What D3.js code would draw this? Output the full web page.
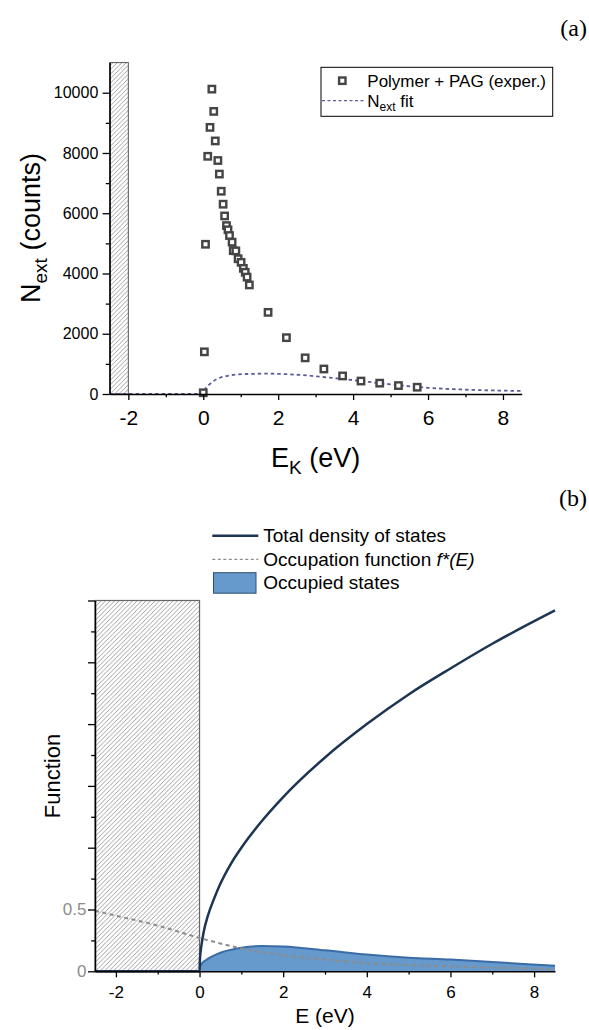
<!DOCTYPE html>
<html>
<head>
<meta charset="utf-8">
<script src="https://cdn.jsdelivr.net/npm/d3@7"></script>
<style>
  body { margin: 0; background: #fff; }
  svg text { font-family: "Liberation Sans", Arial, sans-serif; fill: #000; }
</style>
</head>
<body>
<svg id="chart" width="589" height="1030"></svg>
<script>

// ---- panel (a) data ----
var expEnergy = [0.00, 0.03, 0.06, 0.12, 0.18, 0.23, 0.28, 0.32, 0.39, 0.43, 0.48, 0.53, 0.57, 0.62, 0.66, 0.70,
                 0.77, 0.80, 0.87, 0.93, 1.01, 1.07, 1.12, 1.17, 1.23, 1.73, 2.22, 2.72, 3.22, 3.72, 4.21, 4.71, 5.21, 5.71];
var expCounts = [40, 1400, 4970, 7890, 8850, 10120, 9380, 8400, 7750, 7300, 6730, 6300, 5910, 5590, 5450, 5260,
                 5040, 4760, 4750, 4490, 4370, 4170, 4040, 3880, 3620, 2710, 1870, 1200, 830, 600, 430, 360, 280, 225];
var fitEnergy = [-2.5, 0, 0.05, 0.2, 0.62, 1.16, 1.69, 2.49, 3.29, 4.0, 5.0, 6.0, 7.0, 8.5];
var fitCounts = [0, 0, 150, 354, 597, 664, 674, 640, 554, 460, 320, 205, 145, 100];
var xTicksA = [-2, 0, 2, 4, 6, 8];
var yTicksA = [0, 2000, 4000, 6000, 8000, 10000];
var gapA = [-2.5, -2];

// ---- panel (b) data ----
var dosEnergy = [-2.5, 0, 0.01, 0.05, 0.1, 0.2, 0.35, 0.5, 0.75, 1, 1.5, 2, 3, 4, 5, 6, 7, 8.5];
var dosValue  = [0, 0, 0.1, 0.22, 0.32, 0.45, 0.59, 0.71, 0.87, 1.0, 1.22, 1.41, 1.73, 2.0, 2.24, 2.45, 2.65, 2.92];
var occEnergy = [-2.5, -2, -1, 0, 0.5, 1, 2, 3, 4, 5, 6, 7, 8.5];
var occValue  = [0.49, 0.45, 0.37, 0.27, 0.225, 0.185, 0.13, 0.095, 0.066, 0.05, 0.04, 0.03, 0.018];
var filledEnergy = [0, 0.02, 0.05, 0.15, 0.3, 0.5, 1, 1.5, 2, 3, 4, 5, 6, 7, 8.5];
var filledValue  = [0, 0.04, 0.06, 0.09, 0.12, 0.15, 0.19, 0.205, 0.2, 0.17, 0.135, 0.11, 0.095, 0.075, 0.045];
var xTicksB = [-2, 0, 2, 4, 6, 8];
var yLabelsB = [0, 0.5];
var gapB = [-2.5, 0];


var svg = d3.select("#chart");

// hatch pattern for the forbidden region
var defs = svg.append("defs");
defs.append("pattern")
    .attr("id", "hatch")
    .attr("patternUnits", "userSpaceOnUse")
    .attr("width", 4.5).attr("height", 4.5)
  .append("path")
    .attr("d", "M-1,1 l2,-2 M0,4.5 l4.5,-4.5 M3.5,5.5 l2,-2")
    .attr("stroke", "#8a8a8a")
    .attr("stroke-width", 0.8);

function pairs(xs, ys) {
    return xs.map(function(d, i) { return [d, ys[i]]; });
}

// draws an axis with labelled major ticks and unlabelled minor ticks
function addAxis(g, axisFn, scale, major, minor, size, pad, fontSize, labels) {
    g.append("g")
        .call(axisFn(scale).tickValues(minor).tickSize(size * 0.55).tickSizeOuter(0).tickFormat(""))
        .call(function(s) { s.select(".domain").remove(); });
    var a = g.append("g")
        .call(axisFn(scale).tickValues(major).tickSize(size).tickSizeOuter(0).tickPadding(pad)
              .tickFormat(labels ? function(d) { return String(d); } : ""));
    a.selectAll("text").style("font-size", fontSize + "px").attr("fill", "#000");
    g.selectAll("line").attr("stroke", "#000").attr("stroke-width", 1.3);
    a.select(".domain").attr("stroke", "#000").attr("stroke-width", 1.5);
    return a;
}


/**
 *  Panel (a)
 */
var xA = d3.scaleLinear().domain([-2.5, 8.5]).range([109.6, 521.7]);
var yA = d3.scaleLinear().domain([0, 11000]).range([394, 62.6]);
var pa = svg.append("g");

pa.append("rect")
    .attr("x", xA(gapA[0])).attr("y", yA(11000))
    .attr("width", xA(gapA[1]) - xA(gapA[0])).attr("height", yA(0) - yA(11000))
    .attr("fill", "url(#hatch)").attr("stroke", "#555").attr("stroke-width", 1);

pa.append("path")
    .datum(pairs(fitEnergy, fitCounts))
    .attr("fill", "none")
    .attr("stroke", "#5c5c9c")
    .attr("stroke-width", 1.8)
    .attr("stroke-dasharray", "3.5,3")
    .attr("d", d3.line().x(function(d) { return xA(d[0]); }).y(function(d) { return yA(d[1]); }).curve(d3.curveMonotoneX));

pa.selectAll("rect.pt")
    .data(pairs(expEnergy, expCounts))
    .enter().append("rect")
    .attr("class", "pt")
    .attr("x", function(d) { return xA(d[0]) - 3.2; })
    .attr("y", function(d) { return yA(d[1]) - 3.2; })
    .attr("width", 6.4).attr("height", 6.4)
    .attr("fill", "#fff").attr("stroke", "#454545").attr("stroke-width", 2.4);

addAxis(pa.append("g").attr("transform", "translate(0," + yA(0) + ")"),
        d3.axisBottom, xA, xTicksA, [-1, 1, 3, 5, 7], 6, 10, 21, true);
addAxis(pa.append("g").attr("transform", "translate(" + xA(-2.5) + ",0)"),
        d3.axisLeft, yA, yTicksA, [1000, 3000, 5000, 7000, 9000], 7, 4.3, 16, true);

// axis titles
var tA = pa.append("text").attr("x", 315.6).attr("y", 466.5).attr("text-anchor", "middle").style("font-size", "27px");
tA.append("tspan").text("E");
tA.append("tspan").attr("dy", 7).style("font-size", "19px").text("K");
tA.append("tspan").attr("dy", -7).text(" (eV)");

var tyA = pa.append("text").attr("transform", "translate(40,228) rotate(-90)")
    .attr("text-anchor", "middle").style("font-size", "27px");
tyA.append("tspan").text("N");
tyA.append("tspan").attr("dy", 7).style("font-size", "19px").text("ext");
tyA.append("tspan").attr("dy", -7).text(" (counts)");

// legend (a)
var lgA = pa.append("g");
lgA.append("rect").attr("x", 321).attr("y", 67.3).attr("width", 231.7).attr("height", 49)
    .attr("fill", "#fff").attr("stroke", "#000").attr("stroke-width", 1);
lgA.append("rect").attr("x", 339.1).attr("y", 77.5).attr("width", 6.4).attr("height", 6.4)
    .attr("fill", "#fff").attr("stroke", "#454545").attr("stroke-width", 2.4);
lgA.append("text").attr("x", 367.3).attr("y", 86.5).style("font-size", "17px").text("Polymer + PAG (exper.)");
lgA.append("line").attr("x1", 322).attr("x2", 364).attr("y1", 100.7).attr("y2", 100.7)
    .attr("stroke", "#5c5c9c").attr("stroke-width", 1.3).attr("stroke-dasharray", "3,2.5");
var lgAt = lgA.append("text").attr("x", 367.3).attr("y", 106.5).style("font-size", "17px");
lgAt.append("tspan").text("N");
lgAt.append("tspan").attr("dy", 4).style("font-size", "12px").text("ext");
lgAt.append("tspan").attr("dy", -4).text(" fit");

svg.append("text").attr("x", 587).attr("y", 36).attr("text-anchor", "end")
    .style("font-family", "'Liberation Serif', 'Times New Roman', serif").style("font-size", "24px").text("(a)");


/**
 *  Panel (b)
 */
var xB = d3.scaleLinear().domain([-2.5, 8.5]).range([95, 555]);
var yB = d3.scaleLinear().domain([0, 3]).range([971.3, 600.5]);
var pb = svg.append("g");

pb.append("rect")
    .attr("x", xB(gapB[0])).attr("y", yB(3))
    .attr("width", xB(gapB[1]) - xB(gapB[0])).attr("height", yB(0) - yB(3))
    .attr("fill", "url(#hatch)").attr("stroke", "#666").attr("stroke-width", 1.2);

var filled = pairs(filledEnergy, filledValue);
pb.append("path")
    .datum(filled)
    .attr("fill", "#6699cc")
    .attr("d", d3.area().x(function(d) { return xB(d[0]); }).y0(yB(0)).y1(function(d) { return yB(d[1]); }).curve(d3.curveMonotoneX));
pb.append("path")
    .datum(filled)
    .attr("fill", "none").attr("stroke", "#3a6ca6").attr("stroke-width", 2)
    .attr("d", d3.line().x(function(d) { return xB(d[0]); }).y(function(d) { return yB(d[1]); }).curve(d3.curveMonotoneX));

pb.append("path")
    .datum(pairs(occEnergy, occValue))
    .attr("fill", "none").attr("stroke", "#8c8c8c").attr("stroke-width", 2)
    .attr("stroke-dasharray", "4,3.5")
    .attr("d", d3.line().x(function(d) { return xB(d[0]); }).y(function(d) { return yB(d[1]); }).curve(d3.curveMonotoneX));

pb.append("path")
    .datum(pairs(dosEnergy, dosValue))
    .attr("fill", "none").attr("stroke", "#1b3553").attr("stroke-width", 2.5)
    .attr("d", d3.line().x(function(d) { return xB(d[0]); }).y(function(d) { return yB(d[1]); }).curve(d3.curveMonotoneX));

addAxis(pb.append("g").attr("transform", "translate(0," + yB(0) + ")"),
        d3.axisBottom, xB, xTicksB, [-1, 1, 3, 5, 7], 6, 9, 17, true);
addAxis(pb.append("g").attr("transform", "translate(" + xB(-2.5) + ",0)"),
        d3.axisLeft, yB, [0, 0.5, 1, 1.5, 2, 2.5, 3], [0.25, 0.75, 1.25, 1.75, 2.25, 2.75], 7, 3, 16, false);

pb.selectAll("text.ylab")
    .data(yLabelsB)
    .enter().append("text")
    .attr("class", "ylab")
    .attr("x", 86.5)
    .attr("y", function(d) { return yB(d); })
    .attr("dy", "0.34em")
    .attr("text-anchor", "end")
    .style("font-size", "17px")
    .style("fill", "#8c8c8c")
    .text(function(d) { return String(d); });

pb.append("text").attr("x", 325).attr("y", 1023).attr("text-anchor", "middle")
    .style("font-size", "21px").text("E (eV)");
pb.append("text").attr("transform", "translate(60,776) rotate(-90)").attr("text-anchor", "middle")
    .style("font-size", "22px").text("Function");

// legend (b)
var lgB = pb.append("g");
lgB.append("line").attr("x1", 212.3).attr("x2", 258.3).attr("y1", 535.7).attr("y2", 535.7)
    .attr("stroke", "#1b3553").attr("stroke-width", 2.5);
lgB.append("text").attr("x", 263.3).attr("y", 542).style("font-size", "19px").text("Total density of states");
lgB.append("line").attr("x1", 212.3).attr("x2", 258.3).attr("y1", 559.3).attr("y2", 559.3)
    .attr("stroke", "#8c8c8c").attr("stroke-width", 1.3).attr("stroke-dasharray", "3,2.5");
var lgBt = lgB.append("text").attr("x", 263.3).attr("y", 566).style("font-size", "19px");
lgBt.append("tspan").text("Occupation function ");
lgBt.append("tspan").style("font-style", "italic").text("f*(E)");
lgB.append("rect").attr("x", 213.5).attr("y", 572.7).attr("width", 42.5).attr("height", 20.5)
    .attr("fill", "#6699cc").attr("stroke", "#2e4d6e").attr("stroke-width", 1);
lgB.append("text").attr("x", 263.3).attr("y", 589).style("font-size", "19px").text("Occupied states");

svg.append("text").attr("x", 587).attr("y", 506).attr("text-anchor", "end")
    .style("font-family", "'Liberation Serif', 'Times New Roman', serif").style("font-size", "24px").text("(b)");

</script>
</body>
</html>
